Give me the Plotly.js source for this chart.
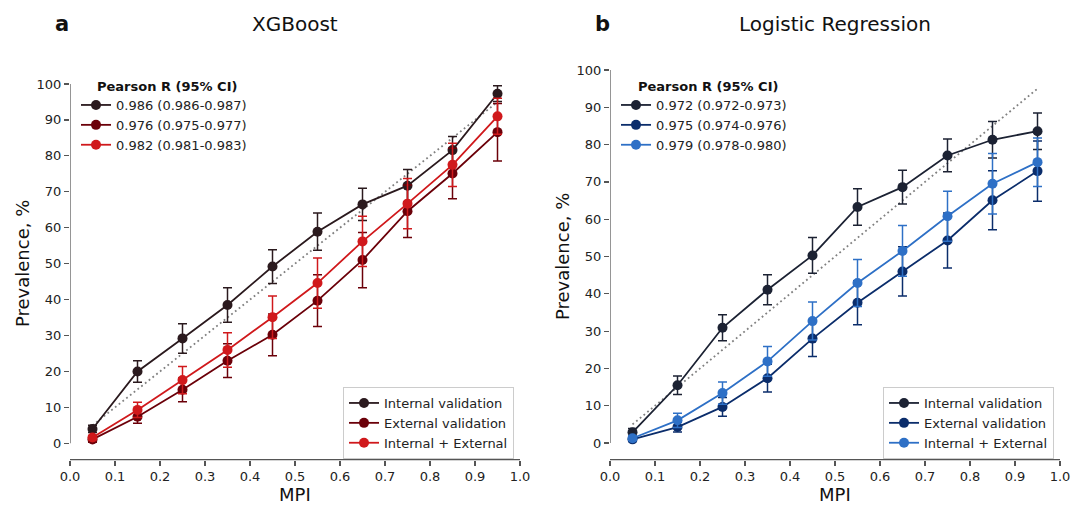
<!DOCTYPE html>
<html>
<head>
<meta charset="utf-8">
<script src="https://cdn.plot.ly/plotly-3.0.1.min.js"></script>
<style>html,body{margin:0;padding:0;background:#fff;}#chart{width:1084px;height:506px;}</style>
</head>
<body>
<div id="chart"></div>
<script>
// ---- data ----
const mpi = [0.05, 0.15, 0.25, 0.35, 0.45, 0.55, 0.65, 0.75, 0.85, 0.95];
const diagX = [0.05, 0.95];
const diagY = [5, 95];
const seriesNames = ['Internal validation', 'External validation', 'Internal + External'];

const xgbInternal = [4.0, 20.0, 29.2, 38.5, 49.2, 58.9, 66.5, 71.7, 81.6, 97.3];
const xgbInternalErr = [1.0, 3.0, 4.1, 4.8, 4.7, 5.2, 4.5, 4.5, 3.8, 2.2];
const xgbExternal = [1.1, 7.4, 14.9, 23.0, 30.2, 39.7, 51.0, 64.6, 75.1, 86.6];
const xgbExternalErr = [0.8, 1.8, 3.3, 4.7, 5.8, 7.2, 7.7, 7.3, 7.0, 8.0];
const xgbCombined = [1.6, 9.3, 17.6, 26.0, 35.1, 44.6, 56.2, 66.7, 77.5, 91.0];
const xgbCombinedErr = [0.6, 2.1, 3.8, 4.8, 5.9, 7.0, 7.0, 7.0, 6.0, 5.0];
const xgbPearson = ['0.986 (0.986-0.987)', '0.976 (0.975-0.977)', '0.982 (0.981-0.983)'];

const lrInternal = [2.9, 15.5, 30.9, 41.1, 50.3, 63.3, 68.6, 77.1, 81.3, 83.6];
const lrInternalErr = [1.0, 2.5, 3.5, 4.0, 4.8, 4.9, 4.5, 4.4, 4.9, 4.9];
const lrExternal = [1.0, 4.3, 9.7, 17.4, 28.0, 37.6, 46.0, 54.3, 65.1, 72.9];
const lrExternalErr = [0.6, 1.3, 2.5, 3.7, 4.8, 5.9, 6.6, 7.4, 7.9, 8.1];
const lrCombined = [1.3, 6.1, 13.4, 21.9, 32.7, 42.9, 51.5, 60.8, 69.5, 75.3];
const lrCombinedErr = [0.6, 1.9, 3.0, 4.0, 5.1, 6.3, 6.8, 6.7, 8.1, 6.5];
const lrPearson = ['0.972 (0.972-0.973)', '0.975 (0.974-0.976)', '0.979 (0.978-0.980)'];

const xgbColors = ['#2b1a1e', '#6b0009', '#d0191c'];
const lrColors = ['#1c2233', '#0b2d6b', '#2e70c6'];

// ---- layout geometry (pixels) ----
const W = 1084, H = 506;
const px = v => v / W;
const py = v => (H - v) / H;
const FONT = 'DejaVu Sans, sans-serif';

const traces = [];
function addPanel(xa, ya, vals, errs, colors, pearson, boxLegend, pearsonLegend) {
  traces.push({
    x: diagX, y: diagY, xaxis: xa, yaxis: ya, mode: 'lines', showlegend: false,
    line: {color: '#808080', width: 1.8, dash: '1.8px,3px'}, hoverinfo: 'skip'
  });
  for (let i = 0; i < 3; i++) {
    traces.push({
      x: mpi, y: vals[i], xaxis: xa, yaxis: ya, mode: 'lines+markers',
      name: seriesNames[i], legend: boxLegend,
      line: {color: colors[i], width: 1.8},
      marker: {color: colors[i], size: 10},
      error_y: {type: 'data', array: errs[i], visible: true, color: colors[i], thickness: 1.5, width: 4.5}
    });
  }
  for (let i = 0; i < 3; i++) {
    traces.push({
      x: [null], y: [null], xaxis: xa, yaxis: ya, mode: 'lines+markers',
      name: pearson[i], legend: pearsonLegend,
      line: {color: colors[i], width: 1.8},
      marker: {color: colors[i], size: 10}
    });
  }
}
addPanel('x', 'y', [xgbInternal, xgbExternal, xgbCombined], [xgbInternalErr, xgbExternalErr, xgbCombinedErr], xgbColors, xgbPearson, 'legend2', 'legend');
addPanel('x2', 'y2', [lrInternal, lrExternal, lrCombined], [lrInternalErr, lrExternalErr, lrCombinedErr], lrColors, lrPearson, 'legend4', 'legend3');

const axisCommon = {
  showgrid: false, zeroline: false, showline: false,
  ticks: 'outside', ticklen: 5, tickwidth: 1.25, tickcolor: '#555',
  tickfont: {family: FONT, size: 13, color: '#222'}, fixedrange: true
};
const bottomPx = 459.5;
const xAxis = (dom, anchor) => Object.assign({}, axisCommon, {
  domain: dom, anchor: anchor, range: [0, 1], tick0: 0, dtick: 0.1, tickformat: '.1f'
});
const yAxis = (dom, anchor, lo) => Object.assign({}, axisCommon, {
  domain: dom, anchor: anchor, range: [lo, 100], tick0: 0, dtick: 10
});

const spine = (xref, yref, x0, x1, y0, y1) => ({
  type: 'line', xref: xref, yref: yref, x0: x0, x1: x1, y0: y0, y1: y1,
  line: {color: '#555', width: 1.25}, layer: 'above'
});

const ann = (text, x, y, size, opts) => Object.assign({
  text: text, x: px(x), y: py(y), xref: 'paper', yref: 'paper',
  xanchor: 'center', yanchor: 'middle', showarrow: false,
  font: {family: FONT, size: size, color: '#111'}
}, opts || {});

const legendCommon = {
  font: {family: FONT, size: 13, color: '#222'}, xanchor: 'left', yanchor: 'top',
  orientation: 'v', tracegroupgap: 0
};

const layout = {
  width: W, height: H, margin: {l: 0, r: 0, t: 0, b: 0},
  paper_bgcolor: '#fff', plot_bgcolor: 'rgba(0,0,0,0)',
  xaxis: xAxis([px(70), px(520)], 'y'),
  yaxis: yAxis([py(bottomPx), py(84)], 'x', -4.5),
  xaxis2: xAxis([px(610), px(1060)], 'y2'),
  yaxis2: yAxis([py(bottomPx), py(70)], 'x2', -4.4),
  legend: Object.assign({}, legendCommon, {x: px(76), y: py(90), bgcolor: 'rgba(0,0,0,0)', borderwidth: 0}),
  legend2: Object.assign({}, legendCommon, {x: px(343), y: py(387), bgcolor: '#fff', bordercolor: '#cccccc', borderwidth: 1}),
  legend3: Object.assign({}, legendCommon, {x: px(616), y: py(90), bgcolor: 'rgba(0,0,0,0)', borderwidth: 0}),
  legend4: Object.assign({}, legendCommon, {x: px(883), y: py(387), bgcolor: '#fff', bordercolor: '#cccccc', borderwidth: 1}),
  shapes: [
    spine('x', 'y', 0, 0, 0, 100),
    spine('x', 'y domain', 0, 1, 0, 0),
    spine('x2', 'y2', 0, 0, 0, 100),
    spine('x2', 'y2 domain', 0, 1, 0, 0)
  ],
  annotations: [
    ann('<b>a</b>', 62, 24, 21),
    ann('XGBoost', 295, 24, 20),
    ann('<b>b</b>', 602, 24, 21),
    ann('Logistic Regression', 835, 24, 20),
    ann('MPI', 295, 494, 18, {borderpad: 0}),
    ann('MPI', 835, 494, 18, {borderpad: 0}),
    ann('Prevalence, %', 22, 264, 18, {textangle: -90}),
    ann('Prevalence, %', 562, 257, 18, {textangle: -90}),
    ann('<b>Pearson R (95% CI)</b>', 167, 86, 13),
    ann('<b>Pearson R (95% CI)</b>', 708, 86, 13)
  ],
  showlegend: true
};

Plotly.newPlot('chart', traces, layout, {staticPlot: true, displayModeBar: false});
</script>
</body>
</html>
